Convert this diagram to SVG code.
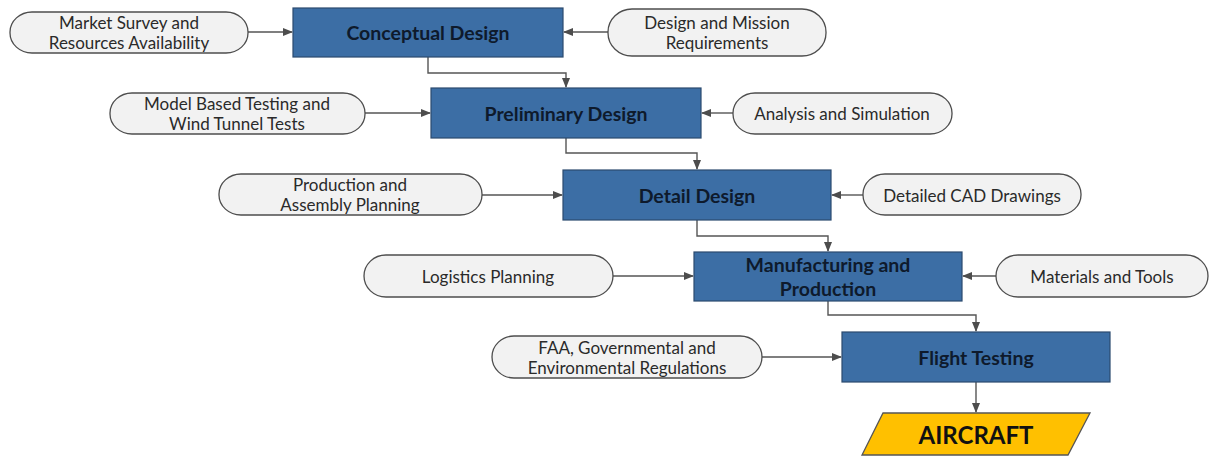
<svg xmlns="http://www.w3.org/2000/svg" width="1212" height="459" viewBox="0 0 1212 459">
<defs>
<marker id="ah" markerWidth="10" markerHeight="8" refX="9" refY="4" orient="auto" markerUnits="userSpaceOnUse">
<path d="M0,0 L10,4 L0,8 Z" fill="#4d4d4d"/>
</marker>
<style>
.box{fill:#3c6ea5;stroke:#2b4a6e;stroke-width:1.2}
.pill{fill:#f2f2f2;stroke:#4d4d4d;stroke-width:1.3}
.bt{font-family:Lato,"Liberation Sans",sans-serif;font-weight:bold;font-size:19.5px;fill:#0e1a2c;text-anchor:middle;dominant-baseline:central}
.pt{font-family:Lato,"Liberation Sans",sans-serif;font-size:17px;fill:#2a2a2a;text-anchor:middle;dominant-baseline:central}
.c{fill:none;stroke:#555;stroke-width:1.4;marker-end:url(#ah)}
</style>
</defs>
<rect width="1212" height="459" fill="#fff"/>
<g id="connectors">
<path class="c" d="M248,32 H292"/>
<path class="c" d="M608,32 H564"/>
<path class="c" d="M428,57 V73 H566 V87"/>
<path class="c" d="M365,113 H430"/>
<path class="c" d="M733,113 H702"/>
<path class="c" d="M566,138 V153 H697 V169"/>
<path class="c" d="M482,195 H562"/>
<path class="c" d="M863,195 H832"/>
<path class="c" d="M697,220 V236 H828 V251"/>
<path class="c" d="M613,276 H693"/>
<path class="c" d="M996,276 H963"/>
<path class="c" d="M828,301 V315 H976 V331"/>
<path class="c" d="M762,357 H841"/>
<path class="c" d="M976,382 V412"/>
</g>
<g id="conceptual">
<rect class="box" x="293" y="8" width="270" height="49"/>
<text class="bt" x="428" y="32.5">Conceptual Design</text>
</g>
<g id="market">
<rect class="pill" x="10" y="12" width="238" height="41" rx="22" ry="20"/>
<text class="pt" x="129" y="22.5">Market Survey and</text>
<text class="pt" x="129" y="42">Resources Availability</text>
</g>
<g id="mission">
<rect class="pill" x="608" y="9" width="218" height="47" rx="24" ry="23"/>
<text class="pt" x="717" y="22.5">Design and Mission</text>
<text class="pt" x="717" y="42">Requirements</text>
</g>
<g id="preliminary">
<rect class="box" x="431" y="88" width="270" height="50"/>
<text class="bt" x="566" y="113">Preliminary Design</text>
</g>
<g id="model">
<rect class="pill" x="110" y="93" width="255" height="41" rx="22" ry="20"/>
<text class="pt" x="237" y="103.5">Model Based Testing and</text>
<text class="pt" x="237" y="123">Wind Tunnel Tests</text>
</g>
<g id="analysis">
<rect class="pill" x="733" y="93" width="219" height="41" rx="22" ry="20"/>
<text class="pt" x="842" y="113.5">Analysis and Simulation</text>
</g>
<g id="detail">
<rect class="box" x="563" y="170" width="268" height="50"/>
<text class="bt" x="697" y="195">Detail Design</text>
</g>
<g id="production">
<rect class="pill" x="219" y="174" width="263" height="41" rx="22" ry="20"/>
<text class="pt" x="350" y="184.5">Production and</text>
<text class="pt" x="350" y="204">Assembly Planning</text>
</g>
<g id="cad">
<rect class="pill" x="863" y="174" width="218" height="41" rx="22" ry="20"/>
<text class="pt" x="972" y="195">Detailed CAD Drawings</text>
</g>
<g id="manufacturing">
<rect class="box" x="694" y="252" width="268" height="49"/>
<text class="bt" x="828" y="264">Manufacturing and</text>
<text class="bt" x="828" y="288">Production</text>
</g>
<g id="logistics">
<rect class="pill" x="364" y="255" width="249" height="42" rx="22" ry="21"/>
<text class="pt" x="488" y="276">Logistics Planning</text>
</g>
<g id="materials">
<rect class="pill" x="996" y="255" width="212" height="42" rx="22" ry="21"/>
<text class="pt" x="1102" y="276">Materials and Tools</text>
</g>
<g id="flight">
<rect class="box" x="842" y="332" width="268" height="50"/>
<text class="bt" x="976" y="357">Flight Testing</text>
</g>
<g id="faa">
<rect class="pill" x="492" y="336" width="270" height="42" rx="22" ry="21"/>
<text class="pt" x="627" y="347">FAA, Governmental and</text>
<text class="pt" x="627" y="367.5">Environmental Regulations</text>
</g>
<g id="aircraft">
<polygon points="883,413 1090,413 1068,455 862,455" fill="#ffc000" stroke="#555" stroke-width="1.3"/>
<text x="976" y="434.5" font-family="Lato,'Liberation Sans',sans-serif" font-weight="bold" font-size="24" fill="#111" text-anchor="middle" dominant-baseline="central">AIRCRAFT</text>
</g>
</svg>
